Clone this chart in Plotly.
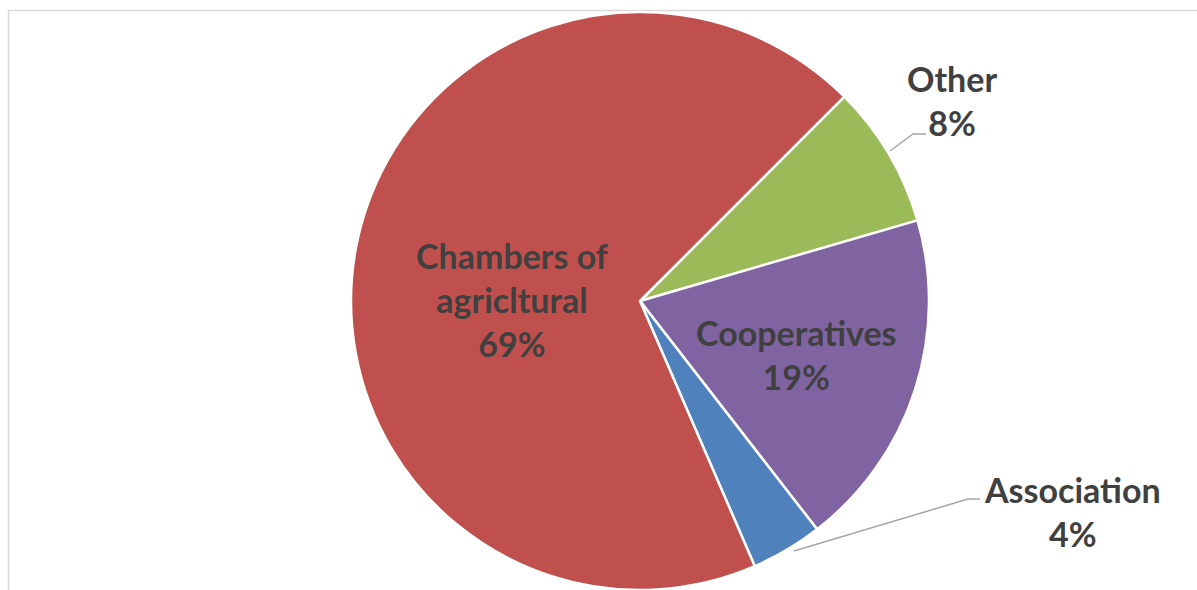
import plotly.graph_objects as go

# Share of advisory providers
categories = ["Other", "Cooperatives", "Association", "Chambers of agricltural"]
values = [8, 19, 4, 69]
slice_colors = ["#9BBB59", "#8064A2", "#4F81BD", "#C0504D"]

W, H = 1197, 590
FONT = "Lato"
TEXT_COLOR = "#404040"


def px(x):
    return x / W


def py(y):
    return 1 - y / H


fig = go.Figure()
fig.add_trace(go.Pie(
    labels=categories,
    values=values,
    sort=False,
    direction="clockwise",
    rotation=45,
    textinfo="none",
    hoverinfo="label+percent",
    marker=dict(colors=slice_colors, line=dict(color="white", width=2.5)),
    domain=dict(x=[px(351), px(929)], y=[py(590), py(12)]),
    showlegend=False,
))

total = sum(values)
pct = {c: f"{round(v * 100 / total)}%" for c, v in zip(categories, values)}

# label text, anchor position (pixels)
label_specs = [
    ("Chambers of<br>agricltural<br>" + pct["Chambers of agricltural"], 512, 299),
    ("Cooperatives<br>" + pct["Cooperatives"], 796, 354),
    ("Other<br>" + pct["Other"], 952, 101),
    ("Association<br>" + pct["Association"], 1072, 511),
]
annotations = [
    dict(text=t, x=px(x), y=py(y), xref="paper", yref="paper",
         showarrow=False, xanchor="center", yanchor="middle", align="center",
         font=dict(family=FONT, size=34, color=TEXT_COLOR, weight="bold"))
    for t, x, y in label_specs
]

# leader lines for the small outside labels
leaders = [
    [(890, 151), (913, 134), (926, 134)],
    [(794, 551), (968, 499), (980, 499)],
]
shapes = []
for pts in leaders:
    path = "M " + " L ".join(f"{px(x)},{py(y)}" for x, y in pts)
    shapes.append(dict(type="path", path=path, xref="paper", yref="paper",
                       line=dict(color="#A6A6A6", width=1.5)))

# chart-area frame
shapes.append(dict(type="rect", xref="paper", yref="paper",
                   x0=px(8.5), x1=px(W + 10), y0=py(H + 10), y1=py(10.5),
                   line=dict(color="#D9D9D9", width=1.5), layer="below"))

fig.update_layout(
    width=W, height=H,
    margin=dict(l=0, r=0, t=0, b=0),
    paper_bgcolor="white",
    plot_bgcolor="white",
    annotations=annotations,
    shapes=shapes,
)

fig.write_html("out.html")
